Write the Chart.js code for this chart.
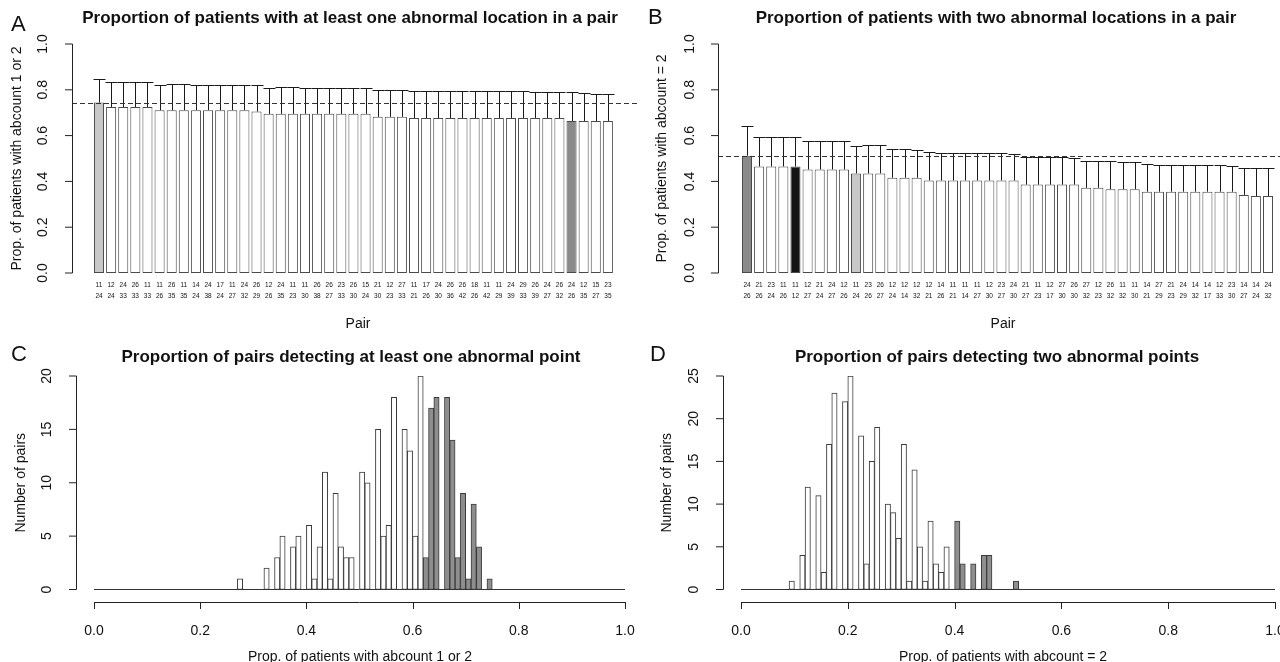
<!DOCTYPE html>
<html>
<head>
<meta charset="utf-8">
<script src="https://cdn.jsdelivr.net/npm/chart.js@4.4.1/dist/chart.umd.min.js"></script>
<style>
  body { margin: 0; background: #fff; }
  #wrap { position: relative; width: 1280px; height: 662px; overflow: hidden; }
  canvas { position: absolute; }
</style>
</head>
<body>
<div id="wrap">
  <canvas id="chartA" width="640" height="331" style="left:0;top:0"></canvas>
  <canvas id="chartB" width="640" height="331" style="left:640px;top:0"></canvas>
  <canvas id="chartC" width="640" height="331" style="left:0;top:331px"></canvas>
  <canvas id="chartD" width="640" height="331" style="left:640px;top:331px"></canvas>
</div>
<script>
// --- data ---

// A: top 44 pairs, proportion with at least one abnormal location
const pairsA1 = [11,12,24,26,11,11,26,11,14,24,17,11,24,26,12,24,11,11,26,26,23,26,15,21,12,27,11,17,24,26,26,18,11,11,24,29,26,24,26,24,12,15,23,11];
const pairsA2 = [24,24,33,33,33,26,35,35,24,38,24,27,32,29,26,35,23,30,38,27,33,30,24,30,23,33,21,26,30,36,42,26,42,29,39,33,39,27,32,26,35,27,35,12];
const propA = [0.744,
  0.725,0.725,0.725,0.725,
  0.711,0.711,0.711,0.711,0.711,0.711,0.711,0.711,0.705,
  0.695,0.695,0.695,0.695,0.695,0.695,0.695,0.695,0.695,
  0.682,0.682,0.682,0.677,0.677,0.677,0.677,0.677,0.677,0.677,0.677,0.677,0.677,0.677,0.677,0.677,
  0.664,0.664,0.664,0.664];
const upperA = [0.847,
  0.836,0.836,0.836,0.836,
  0.822,0.824,0.826,0.822,0.822,0.822,0.820,0.820,0.820,
  0.810,0.812,0.812,0.810,0.810,0.809,0.808,0.808,0.806,
  0.797,0.797,0.797,0.796,0.796,0.796,0.795,0.795,0.795,0.794,0.794,0.793,0.793,0.792,0.792,0.791,0.790,
  0.784,0.783,0.782,0.782];
const bestA = 0.744;

// B: top 44 pairs, proportion with two abnormal locations
const pairsB1 = [24,21,23,11,11,12,21,24,12,11,23,26,12,12,12,12,14,11,11,11,12,23,24,21,11,12,27,26,27,12,26,11,11,14,27,21,24,14,14,12,23,14,14,24];
const pairsB2 = [26,26,24,26,12,27,24,27,26,24,26,27,24,14,32,21,26,21,14,27,30,27,30,27,23,17,30,30,32,23,32,32,30,21,29,23,29,32,17,33,30,27,24,32];
const propB = [0.512,
  0.465,0.465,0.465,0.465,
  0.452,0.452,0.452,0.452,
  0.435,0.435,0.435,
  0.416,0.416,0.416,
  0.404,0.404,0.404,0.404,0.404,0.404,0.404,0.404,
  0.386,0.386,0.386,0.386,0.386,
  0.372,0.372,0.366,0.366,0.366,
  0.355,0.355,0.355,0.355,0.355,0.355,0.355,0.355,
  0.341,0.336,0.336];
const upperB = [0.643,
  0.595,0.594,0.594,0.593,
  0.577,0.576,0.576,0.576,
  0.555,0.560,0.560,
  0.541,0.540,0.539,
  0.527,0.526,0.525,0.525,0.524,0.523,0.522,0.521,
  0.508,0.506,0.505,0.505,0.504,
  0.490,0.488,0.487,0.486,0.486,
  0.474,0.473,0.472,0.471,0.471,0.470,0.470,0.469,
  0.459,0.457,0.457];
const bestB = 0.512;

// pairs picked out with a shade in A and B
const lightPair = '11-24';
const midPair = '24-26';
const darkPair = '11-12';

// C: histogram of all pairs, bins of 0.01 (bin start, count)
const binStartC = [0.27,0.32,0.34,0.35,0.37,0.38,0.40,0.41,0.42,0.43,0.44,0.45,0.46,0.47,0.48,0.50,0.51,0.53,0.54,0.55,0.56,0.58,0.59,0.60,0.61,0.62,0.63,0.64,0.66,0.67,0.68,0.69,0.70,0.71,0.72,0.74];
const countC    = [1,   2,   3,   5,   4,   5,   6,   1,   4,   11,  1,   9,   4,   3,   3,   11,  10,  15,  5,   6,   18,  15,  13,  5,   20,  3,   17,  18,  18,  14,  3,   9,   1,   8,   4,   1];
const grayFromC = 0.62;

// D: histogram of all pairs, bins of 0.01
const binStartD = [0.09,0.11,0.12,0.14,0.15,0.16,0.17,0.19,0.20,0.22,0.23,0.24,0.25,0.27,0.28,0.29,0.30,0.31,0.32,0.33,0.34,0.35,0.36,0.37,0.38,0.40,0.41,0.43,0.45,0.46,0.51];
const countD    = [1,   4,   12,  11,  2,   17,  23,  22,  25,  18,  3,   15,  19,  10,  9,   6,   17,  1,   14,  5,   1,   8,   3,   2,   5,   8,   3,   3,   4,   4,   1];
const grayFromD = 0.40;
const binWidth = 0.01;

// --- drawing helpers (R base graphics look) ---
const FONT = '"Liberation Sans", Arial, Helvetica, sans-serif';
const INK = '#111';

function txt(ctx, str, x, y, size, opt) {
  opt = opt || {};
  ctx.save();
  ctx.font = (opt.bold ? 'bold ' : '') + size + 'px ' + FONT;
  ctx.fillStyle = INK;
  ctx.textAlign = opt.align || 'center';
  ctx.textBaseline = opt.baseline || 'middle';
  ctx.translate(x, y);
  if (opt.rotate) ctx.rotate(-Math.PI / 2);
  ctx.fillText(str, 0, 0);
  ctx.restore();
}

function drawYAxis(chart, p) {
  const ctx = chart.ctx, ys = chart.scales.y;
  const vals = ys.ticks.map(t => t.value);
  const top = ys.getPixelForValue(vals[vals.length - 1]);
  const bot = ys.getPixelForValue(vals[0]);
  ctx.save();
  ctx.strokeStyle = '#222';
  ctx.lineWidth = 1;
  ctx.beginPath();
  ctx.moveTo(p.axisX + 0.5, top);
  ctx.lineTo(p.axisX + 0.5, bot);
  vals.forEach(v => {
    const y = ys.getPixelForValue(v);
    ctx.moveTo(p.axisX + 0.5, y);
    ctx.lineTo(p.axisX - 7, y);
  });
  ctx.stroke();
  ctx.restore();
  vals.forEach(v => txt(ctx, p.fmt(v), p.labelX, ys.getPixelForValue(v), 14, { rotate: true }));
  txt(ctx, p.yTitle, p.titleX, (chart.chartArea.top + chart.chartArea.bottom) / 2, 14, { rotate: true });
}

function drawHeader(chart, p) {
  const ctx = chart.ctx;
  txt(ctx, p.title, p.titleCX, p.titleY, 17, { bold: true });
  txt(ctx, p.letter, p.letterX, p.letterY, 22, { align: 'left', baseline: 'alphabetic' });
  txt(ctx, p.xTitle, p.xTitleCX, p.xTitleY, 14);
}

function shadeFor(label) {
  if (label === lightPair) return '#c8c8c8';
  if (label === midPair) return '#8a8a8a';
  if (label === darkPair) return '#141414';
  return '#ffffff';
}

// bar chart of the top pairs (panels A and B)
function pairChart(id, p) {
  const labels = p.top.map((a, i) => a + '-' + p.bottom[i]);
  const decor = {
    id: 'decor' + id,
    afterDatasetsDraw(chart) {
      const ctx = chart.ctx, xs = chart.scales.x, ys = chart.scales.y;
      // upper error bars
      ctx.save();
      ctx.strokeStyle = '#1a1a1a';
      ctx.lineWidth = 1;
      ctx.beginPath();
      p.values.forEach((v, i) => {
        const x = Math.round(xs.getPixelForValue(i)) + 0.5;
        const y0 = ys.getPixelForValue(v);
        const y1 = Math.round(ys.getPixelForValue(p.upper[i])) + 0.5;
        ctx.moveTo(x, y0);
        ctx.lineTo(x, y1);
        ctx.moveTo(x - 6, y1);
        ctx.lineTo(x + 6, y1);
      });
      ctx.stroke();
      // reference line at the best pair
      const yb = Math.round(ys.getPixelForValue(p.best)) + 0.5;
      ctx.strokeStyle = '#333';
      ctx.setLineDash([5, 3]);
      ctx.beginPath();
      ctx.moveTo(p.axisX, yb);
      ctx.lineTo(640, yb);
      ctx.stroke();
      ctx.restore();
      // two-row pair names
      p.values.forEach((v, i) => {
        const x = xs.getPixelForValue(i);
        txt(ctx, String(p.top[i]), x, 285.5, 6.5);
        txt(ctx, String(p.bottom[i]), x, 296, 6.5);
      });
      drawYAxis(chart, { axisX: p.axisX, labelX: p.labelX, titleX: p.yTitleX, fmt: v => v.toFixed(1), yTitle: p.yTitle });
      drawHeader(chart, p);
    }
  };
  return new Chart(document.getElementById(id), {
    type: 'bar',
    data: {
      labels: labels,
      datasets: [{
        data: p.values,
        backgroundColor: labels.map(shadeFor),
        borderColor: '#4a4a4a',
        borderWidth: 1,
        borderSkipped: false,
        categoryPercentage: 1,
        barPercentage: 0.83
      }]
    },
    options: {
      responsive: false,
      animation: false,
      devicePixelRatio: 1,
      layout: { padding: p.padding },
      scales: {
        x: { display: false },
        y: { display: false, min: 0, max: 1, ticks: { stepSize: 0.2 } }
      },
      plugins: { legend: { display: false }, tooltip: { enabled: false } }
    },
    plugins: [decor]
  });
}

// histogram of all pairs (panels C and D)
function histChart(id, p) {
  const decor = {
    id: 'decor' + id,
    beforeDatasetsDraw(chart) {
      const ctx = chart.ctx, xs = chart.scales.x, ys = chart.scales.y;
      // zero-count bins show as a flat line over the whole break range
      const y0 = Math.round(ys.getPixelForValue(0)) - 0.5;
      ctx.save();
      ctx.strokeStyle = '#333';
      ctx.lineWidth = 1;
      ctx.beginPath();
      ctx.moveTo(xs.getPixelForValue(0), y0);
      ctx.lineTo(xs.getPixelForValue(1), y0);
      ctx.stroke();
      ctx.restore();
    },
    afterDatasetsDraw(chart) {
      const ctx = chart.ctx, xs = chart.scales.x;
      const vals = xs.ticks.map(t => t.value);
      ctx.save();
      ctx.strokeStyle = '#222';
      ctx.lineWidth = 1;
      ctx.beginPath();
      ctx.moveTo(xs.getPixelForValue(vals[0]), p.xAxisY + 0.5);
      ctx.lineTo(xs.getPixelForValue(vals[vals.length - 1]), p.xAxisY + 0.5);
      vals.forEach(v => {
        const x = Math.round(xs.getPixelForValue(v)) + 0.5;
        ctx.moveTo(x, p.xAxisY);
        ctx.lineTo(x, p.xAxisY + 7);
      });
      ctx.stroke();
      ctx.restore();
      vals.forEach(v => txt(ctx, v.toFixed(1), xs.getPixelForValue(v), p.xLabelY, 14));
      drawYAxis(chart, { axisX: p.axisX, labelX: p.labelX, titleX: p.yTitleX, fmt: v => String(v), yTitle: 'Number of pairs' });
      drawHeader(chart, p);
    }
  };
  return new Chart(document.getElementById(id), {
    type: 'bar',
    data: {
      datasets: [{
        data: p.starts.map((s, i) => ({ x: s + binWidth / 2, y: p.counts[i] })),
        backgroundColor: p.starts.map(s => (s >= p.grayFrom - 1e-9 ? '#8e8e8e' : '#ffffff')),
        borderColor: '#3a3a3a',
        borderWidth: 1,
        borderSkipped: false,
        categoryPercentage: 1,
        barPercentage: 1
      }]
    },
    options: {
      responsive: false,
      animation: false,
      devicePixelRatio: 1,
      layout: { padding: p.padding },
      scales: {
        x: { type: 'linear', display: false, offset: false, min: 0, max: 1, ticks: { stepSize: 0.2 } },
        y: { display: false, min: 0, max: p.yMax, ticks: { stepSize: 5 } }
      },
      plugins: { legend: { display: false }, tooltip: { enabled: false } }
    },
    plugins: [decor]
  });
}

pairChart('chartA', {
  top: pairsA1, bottom: pairsA2, values: propA, upper: upperA, best: bestA,
  padding: { left: 92.94, right: 13.94, top: 44, bottom: 58 },
  axisX: 72, labelX: 43, yTitleX: 17,
  yTitle: 'Prop. of patients with abcount 1 or 2',
  title: 'Proportion of patients with at least one abnormal location in a pair',
  titleCX: 350, titleY: 18, letter: 'A', letterX: 11, letterY: 31,
  xTitle: 'Pair', xTitleCX: 358, xTitleY: 324
});

pairChart('chartB', {
  top: pairsB1, bottom: pairsB2, values: propB, upper: upperB, best: bestB,
  padding: { left: 100.94, right: 5.94, top: 44, bottom: 58 },
  axisX: 78, labelX: 50, yTitleX: 22,
  yTitle: 'Prop. of patients with abcount = 2',
  title: 'Proportion of patients with two abnormal locations in a pair',
  titleCX: 356, titleY: 18, letter: 'B', letterX: 8, letterY: 24,
  xTitle: 'Pair', xTitleCX: 363, xTitleY: 324
});

histChart('chartC', {
  starts: binStartC, counts: countC, grayFrom: grayFromC, yMax: 20,
  padding: { left: 94, right: 15, top: 45, bottom: 72.5 },
  axisX: 76, labelX: 47, yTitleX: 21, xAxisY: 271, xLabelY: 300,
  title: 'Proportion of pairs detecting at least one abnormal point',
  titleCX: 351, titleY: 26, letter: 'C', letterX: 11, letterY: 30,
  xTitle: 'Prop. of patients with abcount 1 or 2', xTitleCX: 360, xTitleY: 326
});

histChart('chartD', {
  starts: binStartD, counts: countD, grayFrom: grayFromD, yMax: 25,
  padding: { left: 101, right: 5, top: 45, bottom: 72.5 },
  axisX: 83, labelX: 54, yTitleX: 27, xAxisY: 271, xLabelY: 300,
  title: 'Proportion of pairs detecting two abnormal points',
  titleCX: 357, titleY: 26, letter: 'D', letterX: 10, letterY: 30,
  xTitle: 'Prop. of patients with abcount = 2', xTitleCX: 363, xTitleY: 326
});
</script>
</body>
</html>
